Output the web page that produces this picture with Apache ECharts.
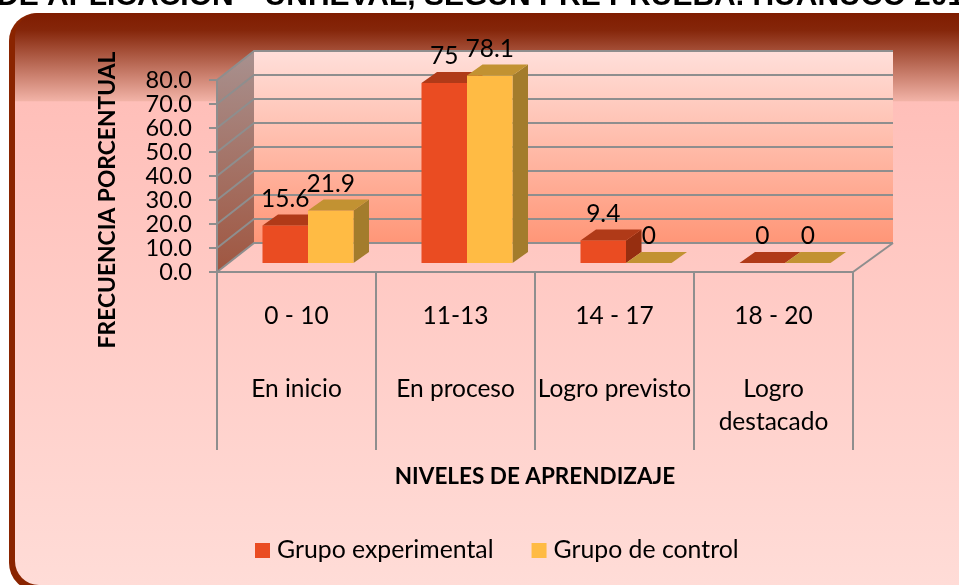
<!DOCTYPE html>
<html>
<head>
<meta charset="utf-8">
<style>html,body{margin:0;padding:0;background:#fff}#c{width:959px;height:585px}</style>
<script src="https://cdn.jsdelivr.net/npm/echarts@6/dist/echarts.min.js"></script>
</head>
<body>
<div id="c"></div>
<script>
const ranges = ['0 - 10', '11-13', '14 - 17', '18 - 20'];
const levels = ['En inicio', 'En proceso', 'Logro previsto', 'Logro\ndestacado'];
const experimental = [15.6, 75, 9.4, 0];
const control = [21.9, 78.1, 0, 0];
const valueTicks = [0, 10, 20, 30, 40, 50, 60, 70, 80];
const titleText = 'DE APLICACIÓN " UNHEVAL, SEGÚN PRE PRUEBA. HUÁNUCO 201';

const FONT = 'Lato';
const LABEL_SIZE = 24.5;
const DEPTH_X = 37, DEPTH_Y = 29;
const GRAY = '#8e8e8e';

function bar3d(values, side, colors) {
  return function (params, api) {
    const i = api.value(0), v = api.value(1);
    const base = api.coord([i, 0]), top = api.coord([i, v]);
    const w = api.size([1, 0])[0] * 0.2862;
    const cx = base[0] + 11.5, by = base[1] - 9, ty = top[1] - 9;
    const x0 = side === 0 ? cx - w : cx, x1 = x0 + w;
    const dx = 15.5, dy = 11;
    const children = [];
    if (v > 0) {
      children.push({ type: 'polygon', shape: { points: [[x1, by], [x1 + dx, by - dy], [x1 + dx, ty - dy], [x1, ty]] }, style: { fill: colors[2] } });
      children.push({ type: 'rect', shape: { x: x0, y: ty, width: w, height: by - ty }, style: { fill: colors[0] } });
    }
    children.push({ type: 'polygon', shape: { points: [[x0, ty], [x0 + dx, ty - dy], [x1 + dx, ty - dy], [x1, ty]] }, style: { fill: colors[1] } });
    children.push({ type: 'text', style: { text: String(v), x: (x0 + x1) / 2, y: ty - dy - 3, align: 'center', verticalAlign: 'bottom', fontFamily: FONT, fontSize: LABEL_SIZE, fill: '#000' } });
    return { type: 'group', children };
  };
}

function renderWalls(params, api) {
  const g = params.coordSys;
  const top = api.coord([0, 80])[1], bot = api.coord([0, 0])[1];
  const xl = g.x, xr = g.x + g.width;
  const bl = xl + DEPTH_X, br = xr + 40;
  return { type: 'group', children: [
    { type: 'polygon', shape: { points: [[bl, top - DEPTH_Y], [br, top - DEPTH_Y], [br, bot - DEPTH_Y], [bl, bot - DEPTH_Y]] },
      style: { fill: { type: 'linear', x: 0, y: 0, x2: 0, y2: 1, colorStops: [{ offset: 0, color: '#ffdfda' }, { offset: 1, color: '#ff9677' }] } } },
    { type: 'polygon', shape: { points: [[xl, top], [bl, top - DEPTH_Y], [bl, bot - DEPTH_Y], [xl, bot]] },
      style: { fill: { type: 'linear', x: 0, y: 0, x2: 0, y2: 1, colorStops: [{ offset: 0, color: '#a8918f' }, { offset: 1, color: '#a05640' }] } } },
    { type: 'polyline', shape: { points: [[xr, bot], [br, bot - DEPTH_Y]] }, style: { stroke: GRAY, lineWidth: 2, fill: 'none' } }
  ] };
}

function renderGridline(params, api) {
  const g = params.coordSys;
  const y = api.coord([0, api.value(1)])[1];
  const xl = g.x, xr = g.x + g.width;
  return { type: 'polyline', shape: { points: [[xl, y], [xl + DEPTH_X, y - DEPTH_Y], [xr + 40, y - DEPTH_Y]] },
    style: { stroke: GRAY, lineWidth: 2, fill: 'none' } };
}

const chart = echarts.init(document.getElementById('c'), null, { renderer: 'canvas' });
chart.setOption({
  animation: false,
  backgroundColor: '#fff',
  title: { text: titleText, left: -3, top: -18, padding: 0,
    textStyle: { fontFamily: 'Liberation Sans', fontWeight: 'bold', fontSize: 30, color: '#000' } },
  graphic: [
    { type: 'rect', z: -2, shape: { x: 9, y: 13, width: 980, height: 578, r: 28 }, style: { fill: '#8a2400' } },
    { type: 'rect', z: -1, shape: { x: 15, y: 13, width: 980, height: 572, r: [24, 0, 0, 24] },
      style: { fill: { type: 'linear', x: 0, y: 0, x2: 0, y2: 1, colorStops: [
        { offset: 0, color: '#7f1c00' },
        { offset: 0.03, color: '#85260a' },
        { offset: 0.154, color: '#f2b3a7' },
        { offset: 0.155, color: '#ffbfb9' },
        { offset: 1, color: '#ffdcd7' }
      ] } } }
  ],
  legend: {
    left: 255, top: 538, padding: 0, itemWidth: 15, itemHeight: 15, itemGap: 38, icon: 'rect',
    data: ['Grupo experimental', 'Grupo de control'],
    textStyle: { fontFamily: FONT, fontSize: 24.8, color: '#000', padding: [0, 0, 0, 2] }
  },
  grid: { left: 217, top: 80, width: 636, height: 192 },
  xAxis: [
    { type: 'category', data: ranges, position: 'bottom', z: 3,
      name: 'NIVELES DE APRENDIZAJE', nameLocation: 'middle', nameGap: 193,
      nameTextStyle: { fontFamily: FONT, fontWeight: 'bold', fontSize: 22.5, color: '#000' },
      axisLine: { lineStyle: { color: GRAY, width: 2 } },
      axisTick: { show: true, length: 178, lineStyle: { color: GRAY, width: 2 } },
      axisLabel: { interval: 0, margin: 28, lineHeight: 33, fontFamily: FONT, fontSize: LABEL_SIZE, color: '#000' } },
    { type: 'category', data: levels, position: 'bottom',
      axisLine: { show: false }, axisTick: { show: false },
      axisLabel: { interval: 0, margin: 101, lineHeight: 33, fontFamily: FONT, fontSize: LABEL_SIZE, color: '#000' } }
  ],
  yAxis: {
    type: 'value', min: 0, max: 80, interval: 10, z: 3,
    name: 'FRECUENCIA PORCENTUAL', nameLocation: 'middle', nameRotate: 90, nameGap: 98,
    nameTextStyle: { fontFamily: FONT, fontWeight: 'bold', fontSize: 22.8, color: '#000', padding: [0, 48, 0, 0] },
    axisLine: { show: true, lineStyle: { color: GRAY, width: 2 } },
    axisTick: { show: true, length: 8, lineStyle: { color: GRAY, width: 2 } },
    splitLine: { show: false },
    axisLabel: { margin: 25, showMinLabel: true, showMaxLabel: true, fontFamily: FONT, fontSize: 23.5, color: '#000', formatter: v => v.toFixed(1) }
  },
  series: [
    { type: 'custom', silent: true, z: 1, clip: false, xAxisIndex: 0, data: [[0, 0]], encode: { x: 0, y: 1 }, renderItem: renderWalls },
    { type: 'custom', silent: true, z: 1.5, clip: false, xAxisIndex: 0, data: valueTicks.map(v => [0, v]), encode: { x: 0, y: 1 }, renderItem: renderGridline },
    { type: 'custom', name: 'Grupo experimental', clip: false, z: 3, xAxisIndex: 0, itemStyle: { color: '#ea4c22' },
      data: experimental.map((v, i) => [i, v]), encode: { x: 0, y: 1 },
      renderItem: bar3d(experimental, 0, ['#ea4c22', '#b03a18', '#962e10']) },
    { type: 'custom', name: 'Grupo de control', clip: false, z: 4, xAxisIndex: 0, itemStyle: { color: '#ffbb44' },
      data: control.map((v, i) => [i, v]), encode: { x: 0, y: 1 },
      renderItem: bar3d(control, 1, ['#ffbb44', '#c29232', '#a37c2c']) }
  ]
});
</script>
</body>
</html>
